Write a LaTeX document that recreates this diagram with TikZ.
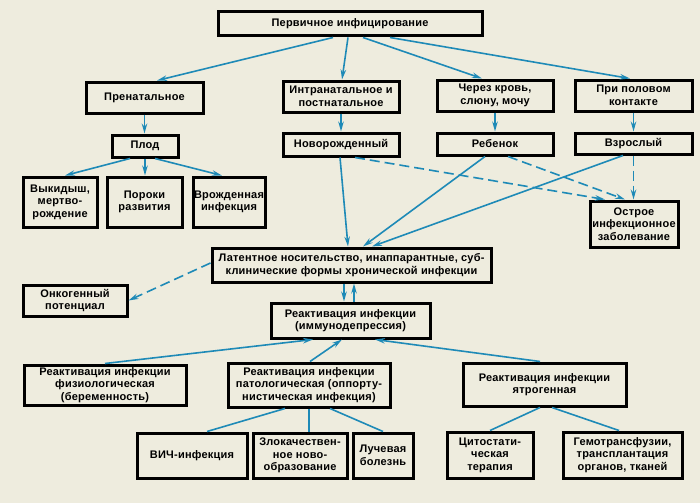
\documentclass[tikz,border=0pt]{standalone}
\usepackage{fontspec}
\setmainfont{Liberation Sans}[LetterSpace=2]
\usepackage{xcolor}
\usepackage{tikz}
\usetikzlibrary{arrows.meta}
\definecolor{papercolor}{RGB}{238,236,222}
\definecolor{linkcolor}{RGB}{30,138,183}

\begin{document}
\begin{tikzpicture}[x=1pt, y=-1pt,
        box/.style={draw=black, line width=3pt, fill=papercolor, align=center, inner sep=1pt,
            font=\fontsize{11}{12.5}\selectfont\bfseries},
        arr/.style={draw=linkcolor, line width=1.6pt, -{Stealth[length=10pt, width=5.5pt]}},
        darr/.style={arr, dash pattern=on 10pt off 5pt},
        link/.style={draw=linkcolor, line width=1.6pt}]
        \useasboundingbox[fill=papercolor] (0,0) rectangle (700,503);
        % boxes
        \node[box, minimum width=264pt, minimum height=24pt] (primary) at (350,24) {Первичное инфицирование};
        \node[box, minimum width=117pt, minimum height=31pt] (prenatal) at (144.5,97.5) {Пренатальное};
        \node[box, minimum width=116pt, minimum height=31pt] (intranatal) at (341,96.5) {Интранатальное и\\постнатальное};
        \node[box, minimum width=116pt, minimum height=31pt] (blood) at (495,95.5) {Через кровь,\\слюну, мочу};
        \node[box, minimum width=117pt, minimum height=31pt] (sexual) at (633.5,95.5) {При половом\\контакте};
        \node[box, minimum width=66pt, minimum height=22pt] (fetus) at (145,146) {Плод};
        \node[box, minimum width=116pt, minimum height=23pt] (newborn) at (341,144.5) {Новорожденный};
        \node[box, minimum width=116pt, minimum height=22pt] (child) at (495,144) {Ребенок};
        \node[box, minimum width=117pt, minimum height=21pt] (adult) at (633.5,143.5) {Взрослый};
        \node[box, minimum width=74pt, minimum height=50pt] (miscarriage) at (60,202) {Выкидыш,\\мертво-\\рождение};
        \node[box, minimum width=75pt, minimum height=50pt] (defects) at (144.5,202) {Пороки\\развития};
        \node[box, minimum width=72pt, minimum height=50pt] (congenital) at (229,202) {Врожденная\\инфекция};
        \node[box, minimum width=88pt, minimum height=46pt] (acute) at (634,224) {Острое\\инфекционное\\заболевание};
        \node[box, minimum width=279pt, minimum height=34pt] (latent) at (351.5,265) {Латентное носительство, инаппарантные, суб-\\клинические формы хронической инфекции};
        \node[box, minimum width=104pt, minimum height=31pt] (oncogenic) at (75,300.5) {Онкогенный\\потенциал};
        \node[box, minimum width=159pt, minimum height=35pt] (reactivation) at (350.5,320.5) {Реактивация инфекции\\(иммунодепрессия)};
        \node[box, minimum width=162pt, minimum height=40pt] (physiol) at (105,385) {Реактивация инфекции\\физиологическая\\(беременность)};
        \node[box, minimum width=162pt, minimum height=44pt] (pathol) at (309,385) {Реактивация инфекции\\патологическая (оппорту-\\нистическая инфекция)};
        \node[box, minimum width=163pt, minimum height=43pt] (iatrogen) at (544.5,384.5) {Реактивация инфекции\\ятрогенная};
        \node[box, minimum width=110pt, minimum height=45pt] (hiv) at (192,455.5) {ВИЧ-инфекция};
        \node[box, minimum width=94pt, minimum height=45pt] (malignant) at (300,455.5) {Злокачествен-\\ное ново-\\образование};
        \node[box, minimum width=60pt, minimum height=45pt] (radiation) at (383,455.5) {Лучевая\\болезнь};
        \node[box, minimum width=86pt, minimum height=46pt] (cytostatic) at (490,455) {Цитостати-\\ческая\\терапия};
        \node[box, minimum width=119pt, minimum height=46pt] (transfusion) at (622.5,455) {Гемотрансфузии,\\трансплантация\\органов, тканей};
        % routes of infection
        \draw[arr] ([xshift=-17pt]primary.south) -- ([xshift=12.5pt]prenatal.north);
        \draw[arr] ([xshift=-2pt]primary.south) -- ([xshift=1pt]intranatal.north);
        \draw[arr] ([xshift=13pt]primary.south) -- ([xshift=-13pt]blood.north);
        \draw[arr] ([xshift=40pt]primary.south) -- ([xshift=-3.5pt]sexual.north);
        \draw[arr] (prenatal.south) -- (fetus.north -| prenatal.south);
        \draw[arr] (intranatal.south) -- (newborn.north);
        \draw[arr] (blood.south) -- (child.north);
        \draw[arr] (sexual.south) -- (adult.north);
        \draw[arr] ([xshift=-15pt]fetus.south) -- ([xshift=5pt]miscarriage.north);
        \draw[arr] (fetus.south) -- (defects.north -| fetus.south);
        \draw[arr] ([xshift=10pt]fetus.south) -- ([xshift=-7pt]congenital.north);
        % outcomes
        \draw[arr] ([xshift=-1pt]newborn.south) -- ([xshift=-3.5pt]latent.north);
        \draw[arr] ([xshift=-10pt]child.south) -- ([xshift=11.5pt]latent.north);
        \draw[arr] ([xshift=-10.5pt]adult.south) -- ([xshift=20.5pt]latent.north);
        \draw[darr] ([xshift=14pt]newborn.south) -- ([xshift=-29pt]acute.north);
        \draw[darr] ([xshift=13pt]child.south) -- ([xshift=-9pt]acute.north);
        \draw[darr] (adult.south) -- (acute.north -| adult.south);
        \draw[darr] ([yshift=2pt]latent.west) -- (oncogenic.east);
        \draw[arr] ([xshift=-7.5pt]latent.south) -- ([xshift=-6.5pt]reactivation.north);
        \draw[arr] ([xshift=3.5pt]reactivation.north) -- ([xshift=2.5pt]latent.south);
        % reactivation
        \draw[arr] (physiol.north) -- ([xshift=-37.5pt]reactivation.south);
        \draw[arr] ([xshift=1pt]pathol.north) -- ([xshift=-8.5pt]reactivation.south);
        \draw[arr] ([xshift=-4.5pt]iatrogen.north) -- ([xshift=24.5pt]reactivation.south);
        \draw[link] ([xshift=-24pt]pathol.south) -- ([xshift=15pt]hiv.north);
        \draw[link] (pathol.south) -- ([xshift=9pt]malignant.north);
        \draw[link] ([xshift=21pt]pathol.south) -- (radiation.north);
        \draw[link] ([xshift=-4.5pt]iatrogen.south) -- (cytostatic.north);
        \draw[link] ([xshift=7.5pt]iatrogen.south) -- ([xshift=-3.5pt]transfusion.north);
    \end{tikzpicture}
\end{document}
